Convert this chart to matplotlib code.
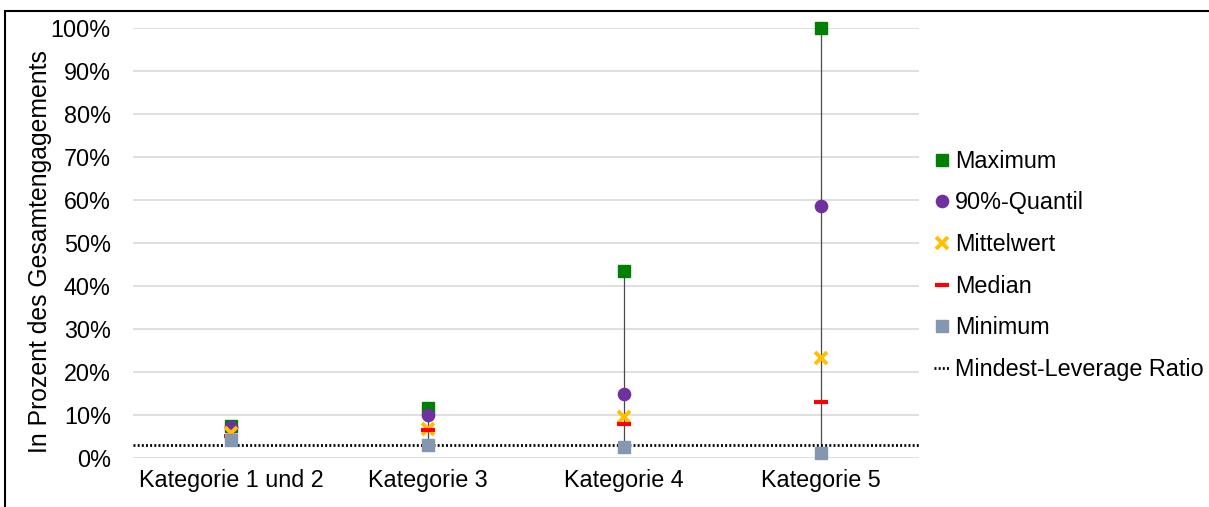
import matplotlib.pyplot as plt
from matplotlib.patches import Rectangle
from matplotlib.ticker import PercentFormatter

plt.rcParams['font.family'] = ['Liberation Sans', 'DejaVu Sans']

# Werte in Prozent des Gesamtengagements
kategorien = ['Kategorie 1 und 2', 'Kategorie 3', 'Kategorie 4', 'Kategorie 5']
maximum = [7.5, 11.6, 43.6, 100.0]
quantil_90 = [7.1, 9.9, 15.0, 58.6]
mittelwert = [5.7, 6.8, 9.5, 23.2]
median = [5.1, 6.4, 7.9, 13.1]
minimum = [4.2, 3.0, 2.6, 1.2]
mindest_lr = 3.0

fig = plt.figure(figsize=(12.09, 5.07), dpi=100)
ax = fig.add_axes([133 / 1209, 49 / 507, 786 / 1209, 430 / 507])

x = list(range(len(kategorien)))

# senkrechte Linien von Minimum bis Maximum
ax.vlines(x, minimum, maximum, color='#4a4a4a', lw=0.9, zorder=2)

ax.axhline(mindest_lr, color='black', lw=2.0, ls=(0, (0.7, 0.8)), zorder=3,
           label='Mindest-Leverage Ratio')

ax.plot(x, maximum, ls='none', marker='s', ms=8.6, color='#008000', mec='#008000',
        zorder=4, label='Maximum', clip_on=False)
ax.plot(x, quantil_90, ls='none', marker='o', ms=8.8, color='#7030A0', mec='#7030A0',
        zorder=5, label='90%-Quantil', clip_on=False)
ax.plot(x, mittelwert, ls='none', marker='x', ms=8.0, mew=2.8, color='#FFC000',
        zorder=6, label='Mittelwert', clip_on=False)
ax.plot(x, median, ls='none', marker='_', ms=10, mew=3.0, color='#FF0000',
        zorder=7, label='Median', clip_on=False)
ax.plot(x, minimum, ls='none', marker='s', ms=8.6, color='#8497B0', mec='#8497B0',
        zorder=8, label='Minimum', clip_on=False)

ax.set_xlim(-0.5, 3.5)
ax.set_ylim(0, 100)
ax.set_yticks(range(0, 101, 10))
ax.yaxis.set_major_formatter(PercentFormatter(decimals=0))
ax.set_xticks(x)
ax.set_xticklabels(kategorien)
ax.tick_params(axis='both', length=0, labelsize=16.8)
ax.tick_params(axis='y', pad=16)
ax.tick_params(axis='x', pad=8)
ax.grid(axis='y', color='#D9D9D9', lw=1.2, zorder=0)
ax.set_axisbelow(True)
for s in ax.spines.values():
    s.set_visible(False)

fig.text(40 / 1209, 1 - 252 / 507, 'In Prozent des Gesamtengagements', rotation=90,
         ha='center', va='center', fontsize=17.8)

# Legende in der Reihenfolge wie im Original
h, l = ax.get_legend_handles_labels()
order = [1, 2, 3, 4, 5, 0]
fig.legend([h[i] for i in order], [l[i] for i in order], loc='upper left',
           bbox_to_anchor=(922 / 1209, 1 - 138 / 507), frameon=False, fontsize=16.8,
           handlelength=0.7, handletextpad=0.2, labelspacing=0.8, borderpad=0,
           numpoints=1)

# Rahmen um die Grafik
fig.patches.append(Rectangle((5 / 1209, -0.1), 1.2, 1.1 - 11 / 507, transform=fig.transFigure,
                             fill=False, ec='black', lw=1.5))

fig.savefig('out.png', dpi=100)
